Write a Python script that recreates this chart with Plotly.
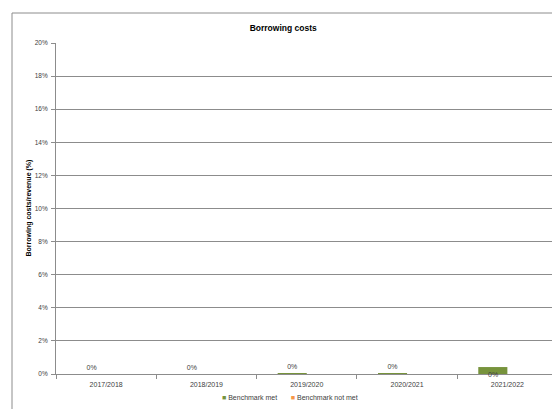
import plotly.graph_objects as go

# Financial years on the category axis
years = ["2017/2018", "2018/2019", "2019/2020", "2020/2021", "2021/2022"]

# Borrowing costs as a share of revenue (fractions)
benchmark_met = [0.0, 0.0, 0.0005, 0.0003, 0.0042]
benchmark_not_met = [0.0, 0.0, 0.0, 0.0, 0.0]

# Y axis ticks
y_ticks = [0.0, 0.02, 0.04, 0.06, 0.08, 0.10, 0.12, 0.14, 0.16, 0.18, 0.20]

series = [("Benchmark met", benchmark_met, "#77933C"),
          ("Benchmark not met", benchmark_not_met, "#F79646")]

FONT = "Liberation Sans, Arial, sans-serif"
TEXT = "#404040"
GRID = "#8c8c8c"

# small bars get their value label above; the tallest one has it at its base
label_pos = ["outside" if v < 0.003 else "none" for v in benchmark_met]

fig = go.Figure()
for name, vals, col in series:
    fig.add_trace(go.Bar(
        x=years, y=vals, name=name,
        marker=dict(color=col, line=dict(width=0)),
        showlegend=False,
    ))
fig.data[0].update(
    texttemplate="%{y:.0%}", textposition=label_pos,
    textfont=dict(size=7, color=TEXT, family=FONT), cliponaxis=False,
)

annotations = []
for yr, v, pos in zip(years, benchmark_met, label_pos):
    if pos == "none":
        annotations.append(dict(
            x=yr, y=0, xref="x", yref="y", text=f"{v:.0%}", showarrow=False,
            xshift=-14, yshift=0, font=dict(size=7, color=TEXT, family=FONT),
        ))

annotations.append(dict(
    text="<b>Borrowing costs/revenue (%)</b>", textangle=-90,
    xref="paper", yref="paper", x=(28 - 56) / 496, y=0.5,
    xanchor="center", yanchor="middle", showarrow=False,
    font=dict(size=7, color="#000000", family=FONT),
))

# compact legend drawn as coloured squares with the series names
legend_text = "       ".join(
    f"<span style='color:{col}'>■</span> {name}" for name, _, col in series
)
annotations.append(dict(
    text=legend_text, xref="paper", yref="paper",
    x=(290 - 56) / 496, y=(374 - 397) / 331,
    xanchor="center", yanchor="middle", showarrow=False,
    font=dict(size=7, color=TEXT, family=FONT),
))

fig.update_layout(
    width=552, height=409,
    margin=dict(l=56, r=0, t=43, b=35),
    paper_bgcolor="white", plot_bgcolor="white",
    font=dict(family=FONT, size=7, color=TEXT),
    barmode="group", bargap=0.42, bargroupgap=0,
    title=dict(text="<b>Borrowing costs</b>", x=0.513, xanchor="center",
               y=0.932, yanchor="middle",
               font=dict(size=8.5, color="#000000", family=FONT)),
    showlegend=False,
    xaxis=dict(
        type="category", range=[-0.5, 4.445],
        showgrid=False, showline=True, linecolor=GRID, linewidth=1,
        ticks="outside", tickson="boundaries", ticklen=4, tickcolor=GRID,
        ticklabelstandoff=4,
        tickfont=dict(size=7, color=TEXT, family=FONT),
        fixedrange=True,
    ),
    yaxis=dict(
        range=[0, 0.2], tickvals=y_ticks, tickformat=".0%",
        showgrid=True, gridcolor=GRID, gridwidth=1,
        showline=True, linecolor=GRID, linewidth=1,
        ticks="outside", ticklen=4, tickcolor=GRID,
        ticklabelstandoff=2,
        tickfont=dict(size=6.5, color=TEXT, family=FONT),
        zeroline=False, fixedrange=True,
    ),
    annotations=annotations,
    shapes=[dict(
        type="rect", xref="paper", yref="paper",
        x0=-0.0887, x1=1.2, y0=-0.3, y1=1.0906,
        line=dict(color=GRID, width=1), fillcolor="rgba(0,0,0,0)",
        layer="below",
    )],
)

fig.write_html("out.html")
